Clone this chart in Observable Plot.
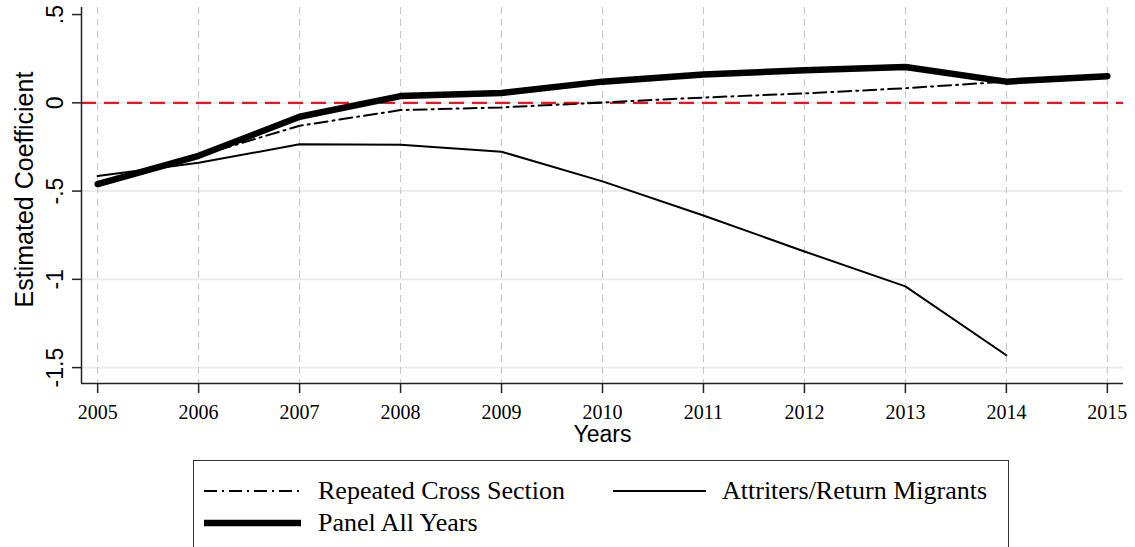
<!DOCTYPE html>
<html>
<head>
<meta charset="utf-8">
<script src="https://cdn.jsdelivr.net/npm/d3@7"></script>
<script src="https://cdn.jsdelivr.net/npm/@observablehq/plot@0.6"></script>
<style>
  html, body { margin: 0; padding: 0; background: #fff; }
  #wrap { position: relative; width: 1135px; height: 547px; overflow: hidden; }
  #chart { position: absolute; left: 0; top: 0; }
  #legend { position: absolute; left: 193px; top: 460px; width: 816px; height: 100px;
            border: 1.5px solid #333; box-sizing: border-box; background: #fff; }
  .lg { position: absolute; font-family: "Liberation Serif", "Times New Roman", serif; font-size: 26px; color: #000; white-space: nowrap; line-height: 1; }
  #legend svg { position: absolute; left: 0; top: 0; }
</style>
</head>
<body>
<div id="wrap">
  <div id="chart"></div>
  <div id="legend"></div>
</div>
<script>
// ---- data ----
const years = [2005, 2006, 2007, 2008, 2009, 2010, 2011, 2012, 2013, 2014, 2015];
const repeatedYears = [2005, 2006, 2007, 2008, 2009, 2010, 2011, 2012, 2013, 2014];
const repeatedCrossSection = [-0.45, -0.30, -0.13, -0.041, -0.026, 0.002, 0.030, 0.053, 0.083, 0.12];
const attriterYears = [2005, 2006, 2007, 2008, 2009, 2010, 2011, 2012, 2013, 2014];
const attritersReturnMigrants = [-0.415, -0.34, -0.235, -0.237, -0.277, -0.445, -0.638, -0.842, -1.04, -1.43];
const panelYears = [2005, 2006, 2007, 2008, 2009, 2010, 2011, 2012, 2013, 2014, 2015];
const panelAllYears = [-0.46, -0.30, -0.079, 0.038, 0.056, 0.12, 0.16, 0.185, 0.203, 0.12, 0.151];
const yTicks = [0.5, 0, -0.5, -1, -1.5];
const yTickLabels = [".5", "0", "-.5", "-1", "-1.5"];
const yGrid = [-1.5, -1, -0.5, 0];
const seriesNames = ["Repeated Cross Section", "Attriters/Return Migrants", "Panel All Years"];

const rcs = repeatedYears.map((x, i) => ({x, y: repeatedCrossSection[i]}));
const att = attriterYears.map((x, i) => ({x, y: attritersReturnMigrants[i]}));
const pan = panelYears.map((x, i) => ({x, y: panelAllYears[i]}));
const yLab = yTicks.map((v, i) => ({v, t: yTickLabels[i]}));

const sans = "Arial, 'Liberation Sans', Helvetica, sans-serif";
const serif = "'Liberation Serif', 'Times New Roman', serif";

const xMin = 2004.84, xMax = 2015.16, yMin = -1.59, yMax = 0.54;

const chart = Plot.plot({
  width: 1135,
  height: 455,
  marginLeft: 81,
  marginRight: 12,
  marginTop: 7,
  marginBottom: 72,
  x: {type: "linear", domain: [xMin, xMax]},
  y: {type: "linear", domain: [yMin, yMax]},
  style: {background: "#fff", overflow: "visible"},
  marks: [
    Plot.ruleY(yGrid, {stroke: "#e6eef0", strokeWidth: 2}),
    Plot.ruleX(years, {stroke: "#c4c4c4", strokeWidth: 1, strokeDasharray: "7,5"}),
    Plot.ruleY([0], {stroke: "#ff1010", strokeWidth: 2.2, strokeDasharray: "15,8"}),
    Plot.line(att, {x: "x", y: "y", stroke: "#000", strokeWidth: 2, strokeLinejoin: "round"}),
    Plot.line(rcs, {x: "x", y: "y", stroke: "#000", strokeWidth: 2, strokeDasharray: "13,5,2,5"}),
    Plot.line(pan, {x: "x", y: "y", stroke: "#000", strokeWidth: 6.5, strokeLinecap: "round", strokeLinejoin: "round"}),
    Plot.ruleX([xMin], {stroke: "#222", strokeWidth: 1.5}),
    Plot.ruleY([yMin], {stroke: "#222", strokeWidth: 1.5}),
    Plot.axisX({ticks: years, tickSize: 10, tickPadding: 11, tickFormat: d => String(d), fontSize: 20, fontFamily: serif, label: null, stroke: "#222", strokeWidth: 1.5, color: "#000"}),
    Plot.axisY({ticks: yTicks, tickSize: 9, tickFormat: () => "", label: null, stroke: "#222", strokeWidth: 1.5}),
    Plot.text(yLab, {x: xMin, y: "v", text: "t", rotate: -90, dx: -26, fontSize: 23, fontFamily: sans, fill: "#000"}),
    Plot.text(["Estimated Coefficient"], {frameAnchor: "left", textAnchor: "middle", lineAnchor: "middle", rotate: -90, dx: -57, dy: -6, fontSize: 25, fontFamily: sans, fill: "#000"}),
    Plot.text(["Years"], {frameAnchor: "bottom", lineAnchor: "middle", dy: 51.5, fontSize: 23, fontFamily: sans, fill: "#000"})
  ]
});
document.getElementById("chart").appendChild(chart);

// ---- legend ----
const lg = document.getElementById("legend");
const ns = "http://www.w3.org/2000/svg";
const ls = document.createElementNS(ns, "svg");
ls.setAttribute("width", 816); ls.setAttribute("height", 100);
function sample(x1, x2, y, w, dash) {
  const l = document.createElementNS(ns, "line");
  l.setAttribute("x1", x1); l.setAttribute("x2", x2);
  l.setAttribute("y1", y); l.setAttribute("y2", y);
  l.setAttribute("stroke", "#000"); l.setAttribute("stroke-width", w);
  if (dash) l.setAttribute("stroke-dasharray", dash);
  ls.appendChild(l);
}
// offsets relative to legend box (left 193, top 460)
sample(10, 107, 30, 2, "13,5,2,5");
sample(419, 512, 30, 2, null);
sample(10, 107, 62, 6.5, null);
lg.appendChild(ls);
function label(text, x, y) {
  const d = document.createElement("div");
  d.className = "lg"; d.textContent = text;
  d.style.left = x + "px"; d.style.top = y + "px";
  lg.appendChild(d);
}
label(seriesNames[0], 124, 17);
label(seriesNames[1], 528, 17);
label(seriesNames[2], 124, 49);
</script>
</body>
</html>
